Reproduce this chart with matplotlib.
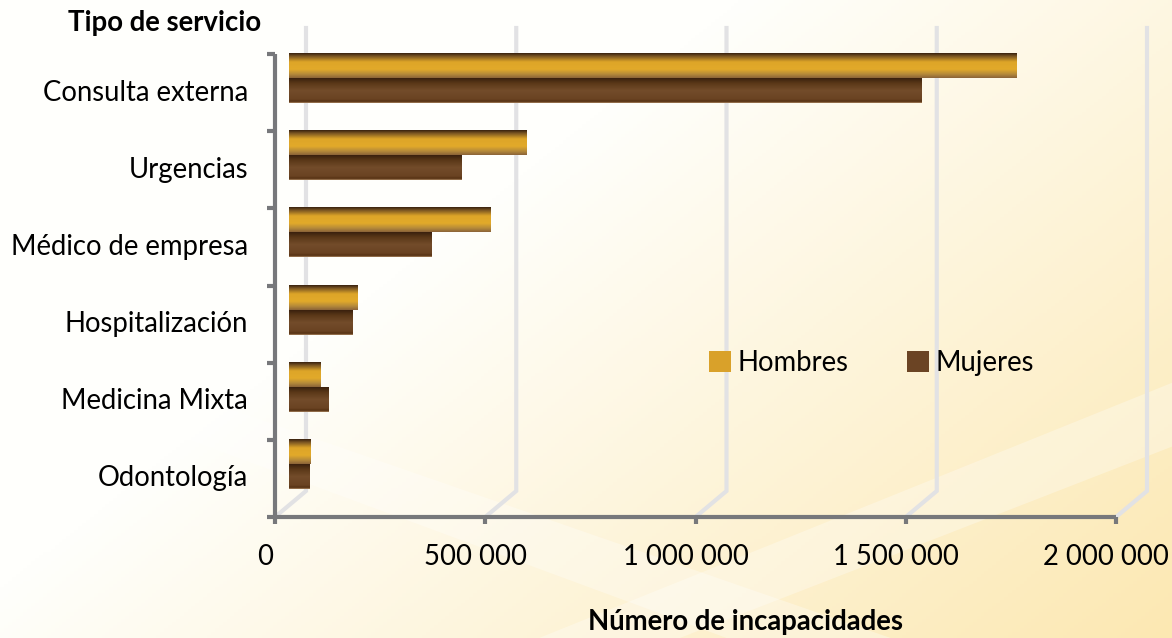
import numpy as np
import matplotlib.pyplot as plt
from matplotlib.colors import LinearSegmentedColormap
from matplotlib.patches import Patch, Polygon

# Datos
servicios = ['Consulta externa', 'Urgencias', 'Médico de empresa',
             'Hospitalización', 'Medicina Mixta', 'Odontología']
hombres = [1729000, 564000, 480000, 162000, 76000, 50000]
mujeres = [1503000, 411000, 338000, 150000, 93000, 48000]
xticks = [0, 500000, 1000000, 1500000, 2000000]
xlabels = ['0', '500 000', '1 000 000', '1 500 000', '2 000 000']

plt.rcParams['font.family'] = ['Lato', 'DejaVu Sans']
FS = 19.8

W, H = 1172, 638
fig = plt.figure(figsize=(W / 100, H / 100), dpi=100)

# fondo crema con bandas diagonales
bg = fig.add_axes([0, 0, 1, 1], zorder=-10)
yy, xx = np.mgrid[0:1:200j, 0:1:300j]
t = np.clip(0.95 * xx + 0.65 * yy - 0.6, 0, 1)
c0 = np.array([255, 255, 252]) / 255
c1 = np.array([252, 232, 178]) / 255
img = c0 + (c1 - c0) * t[..., None]
bg.imshow(img, extent=(0, 1, 0, 1), origin='upper', aspect='auto')
bg.add_patch(Polygon([(0.46, 0), (0.58, 0), (1, 0.30), (1, 0.40)],
                     closed=True, color='white', alpha=0.3, lw=0))
bg.add_patch(Polygon([(0.0, 0.42), (0.10, 0.42), (0.76, 0), (0.62, 0)],
                     closed=True, color='white', alpha=0.3, lw=0))
bg.set_xlim(0, 1)
bg.set_ylim(0, 1)
bg.axis('off')

# plano frontal
x0, x1 = 275, 1116
ytop, ybot = 54, 517
ax = fig.add_axes([x0 / W, 1 - ybot / H, (x1 - x0) / W, (ybot - ytop) / H])
ax.patch.set_alpha(0)
xmax = 2000000
ax.set_xlim(0, xmax)
ax.set_ylim(5.5, -0.5)
px_x = xmax / (x1 - x0)
px_y = 6 / (ybot - ytop)

# offsets de profundidad
dxb, dyb = 31 * px_x, 26 * px_y     # pared del fondo
dxm, dym = 14 * px_x, 14.5 * px_y   # plano de las barras

grid_col = '#E2E2E4'
for v in xticks:
    ax.plot([v, v + dxb, v + dxb], [5.5, 5.5 - dyb, -0.5 - dyb],
            color=grid_col, lw=3, clip_on=False, zorder=1,
            solid_joinstyle='miter')

# ejes
axis_col = '#77787B'
ax.plot([0, xmax], [5.5, 5.5], color=axis_col, lw=3, clip_on=False, zorder=3,
        solid_capstyle='butt')
ax.plot([0, 0], [-0.5, 5.5], color=axis_col, lw=3, clip_on=False, zorder=3,
        solid_capstyle='butt')
for v in xticks:
    ax.plot([v, v], [5.5, 5.5 + 7 * px_y], color=axis_col, lw=3,
            clip_on=False, zorder=3, solid_capstyle='butt')
for k in range(7):
    ax.plot([-8 * px_x, 0], [k - 0.5, k - 0.5], color=axis_col, lw=3,
            clip_on=False, zorder=3, solid_capstyle='butt')

for s in ax.spines.values():
    s.set_visible(False)
ax.set_xticks([])
ax.set_yticks([])

# barras con degradado
cm_h = LinearSegmentedColormap.from_list('h', [
    (0.0, '#3A220F'), (0.12, '#7A5522'), (0.35, '#DDA528'),
    (0.65, '#E2AA2A'), (0.85, '#B58A3A'), (1.0, '#8C6438')])
cm_m = LinearSegmentedColormap.from_list('m', [
    (0.0, '#3A210E'), (0.2, '#5A3818'), (0.5, '#734C2A'),
    (0.85, '#6A4322'), (0.95, '#553012'), (1.0, '#A88460')])
grad = np.linspace(0, 1, 64)[:, None]

bh = 25 * px_y
pos = np.arange(len(servicios)) - dym
for vals, cm, off in [(hombres, cm_h, -bh / 2), (mujeres, cm_m, bh / 2)]:
    bars = ax.barh(pos + off, vals, height=bh, left=dxm, color='none',
                   lw=0, zorder=4)
    for b in bars:
        bx, by = b.get_x(), b.get_y()
        im = ax.imshow(grad, cmap=cm, extent=(bx, bx + b.get_width(), by + bh, by),
                       origin='upper', aspect='auto', zorder=4,
                       interpolation='bilinear')
        im.set_clip_path(b)
ax.set_xlim(0, xmax)
ax.set_ylim(5.5, -0.5)

# etiquetas
for i, s in enumerate(servicios):
    ax.text(-27 * px_x, i, s, ha='right', va='center', fontsize=FS)
for v, lab in zip(xticks, xlabels):
    ax.text(v - 10 * px_x, 5.5 + 40 * px_y, lab, ha='center', va='center',
            fontsize=FS)

fig.text(746 / W, 1 - 622 / H, 'Número de incapacidades', ha='center',
         va='center', fontsize=FS, fontweight='bold')
fig.text(165 / W, 1 - 23 / H, 'Tipo de servicio', ha='center', va='center',
         fontsize=FS, fontweight='bold')

handles = [Patch(facecolor='#D9A12A', label='Hombres'),
           Patch(facecolor='#6B4424', label='Mujeres')]
fig.legend(handles=handles, ncol=2, frameon=False, fontsize=FS,
           loc='center left', bbox_to_anchor=(698 / W, 1 - 363 / H),
           handlelength=0.8, handleheight=0.8, handletextpad=0.25,
           columnspacing=2.1, borderaxespad=0)

fig.savefig('out.png', dpi=100)
